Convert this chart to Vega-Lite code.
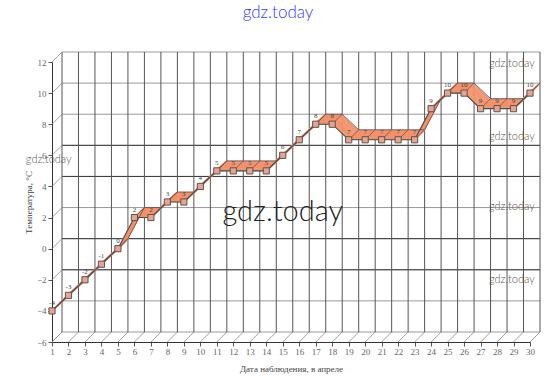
{
  "$schema": "https://vega.github.io/schema/vega-lite/v6.json",
  "width": 478,
  "height": 280,
  "autosize": {"type": "none"},
  "padding": {"left": 52, "top": 62, "right": 26, "bottom": 43},
  "background": "white",
  "config": {"view": {"stroke": null}, "axis": {"grid": false, "labelOverlap": false}},
  "title": {"text": "gdz.today", "color": "#3b3bea", "fontSize": 17, "font": "Lato", "fontWeight": 300, "offset": 30, "dx": -13},
  "datasets": {
    "temp": [
      {"day": 1, "t": -4}, {"day": 2, "t": -3}, {"day": 3, "t": -2}, {"day": 4, "t": -1}, {"day": 5, "t": 0},
      {"day": 6, "t": 2}, {"day": 7, "t": 2}, {"day": 8, "t": 3}, {"day": 9, "t": 3}, {"day": 10, "t": 4},
      {"day": 11, "t": 5}, {"day": 12, "t": 5}, {"day": 13, "t": 5}, {"day": 14, "t": 5}, {"day": 15, "t": 6},
      {"day": 16, "t": 7}, {"day": 17, "t": 8}, {"day": 18, "t": 8}, {"day": 19, "t": 7}, {"day": 20, "t": 7},
      {"day": 21, "t": 7}, {"day": 22, "t": 7}, {"day": 23, "t": 7}, {"day": 24, "t": 9}, {"day": 25, "t": 10},
      {"day": 26, "t": 10}, {"day": 27, "t": 9}, {"day": 28, "t": 9}, {"day": 29, "t": 9}, {"day": 30, "t": 10}
    ],
    "days": [
      {"day": 1}, {"day": 2}, {"day": 3}, {"day": 4}, {"day": 5}, {"day": 6}, {"day": 7}, {"day": 8}, {"day": 9}, {"day": 10},
      {"day": 11}, {"day": 12}, {"day": 13}, {"day": 14}, {"day": 15}, {"day": 16}, {"day": 17}, {"day": 18}, {"day": 19}, {"day": 20},
      {"day": 21}, {"day": 22}, {"day": 23}, {"day": 24}, {"day": 25}, {"day": 26}, {"day": 27}, {"day": 28}, {"day": 29}, {"day": 30}
    ],
    "levels": [{"t": -6}, {"t": -4}, {"t": -2}, {"t": 0}, {"t": 2}, {"t": 4}, {"t": 6}, {"t": 8}, {"t": 10}, {"t": 12}],
    "dark": [{"t": 6}, {"t": 4}, {"t": 0}, {"t": -2}],
    "wm": [{"day": 28.9, "t": 11.9}, {"day": 28.9, "t": 7.2}, {"day": 28.9, "t": 2.7}, {"day": 28.9, "t": -2.0}, {"day": 0.8, "t": 5.7}]
  },
  "layer": [
    {
      "data": {"name": "levels"},
      "mark": {"type": "rule", "color": "#9a9a9a", "strokeWidth": 1, "xOffset": 10, "x2Offset": 10, "yOffset": -10, "y2Offset": -10},
      "encoding": {
        "x": {"datum": 1, "type": "quantitative",
          "scale": {"domain": [1, 30], "nice": false, "zero": false},
          "axis": {"title": "Дата наблюдения, в апреле", "values": [1,2,3,4,5,6,7,8,9,10,11,12,13,14,15,16,17,18,19,20,21,22,23,24,25,26,27,28,29,30], "tickCount": 30,
            "labelFont": "Liberation Serif", "labelFontSize": 9, "labelColor": "#666", "labelPadding": 1, "labelFlush": false, "labelOverlap": false,
            "tickColor": "#555", "tickSize": 4, "domainColor": "#333",
            "titleFont": "Liberation Serif", "titleFontSize": 9, "titleColor": "#444", "titleFontWeight": "normal", "titlePadding": 8}},
        "x2": {"datum": 30},
        "y": {"field": "t", "type": "quantitative",
          "scale": {"domain": [-6, 12], "nice": false, "zero": false},
          "axis": {"title": "Температура, °C", "values": [-6,-4,-2,0,2,4,6,8,10,12], "tickCount": 10,
            "labelFont": "Liberation Serif", "labelFontSize": 9, "labelColor": "#666", "labelPadding": 2, "labelFlush": false, "labelOverlap": false,
            "tickColor": "#555", "tickSize": 4, "domainColor": "#333",
            "titleFont": "Liberation Serif", "titleFontSize": 9, "titleColor": "#444", "titleFontWeight": "normal", "titlePadding": 3}}
      }
    },
    {
      "data": {"name": "dark"},
      "mark": {"type": "rule", "color": "#3a3a3a", "strokeWidth": 1, "xOffset": 10, "x2Offset": 10, "yOffset": -10, "y2Offset": -10},
      "encoding": {"x": {"datum": 1, "type": "quantitative"}, "x2": {"datum": 30}, "y": {"field": "t", "type": "quantitative"}}
    },
    {
      "data": {"name": "days"},
      "mark": {"type": "rule", "color": "#555", "strokeWidth": 1, "xOffset": 10, "x2Offset": 10, "yOffset": -10, "y2Offset": -10},
      "encoding": {"x": {"field": "day", "type": "quantitative"}, "y": {"datum": -6, "type": "quantitative"}, "y2": {"datum": 12}}
    },
    {
      "data": {"name": "days"},
      "mark": {"type": "rule", "color": "#888", "strokeWidth": 0.8, "x2Offset": 10, "y2Offset": -10},
      "encoding": {"x": {"field": "day", "type": "quantitative"}, "x2": {"field": "day"}, "y": {"datum": -6, "type": "quantitative"}, "y2": {"datum": -6}}
    },
    {
      "data": {"name": "levels"},
      "mark": {"type": "rule", "color": "#888", "strokeWidth": 0.8, "x2Offset": 10, "y2Offset": -10},
      "encoding": {"x": {"datum": 1, "type": "quantitative"}, "x2": {"datum": 1}, "y": {"field": "t", "type": "quantitative"}, "y2": {"field": "t"}}
    },
    {"data": {"name": "temp"}, "mark": {"type": "line", "color": "#f3916a", "strokeWidth": 1.8, "xOffset": 0.6, "yOffset": -0.6},
      "encoding": {"x": {"field": "day", "type": "quantitative"}, "y": {"field": "t", "type": "quantitative"}}},
    {"data": {"name": "temp"}, "mark": {"type": "line", "color": "#f3916a", "strokeWidth": 1.8, "xOffset": 1.8, "yOffset": -1.8},
      "encoding": {"x": {"field": "day", "type": "quantitative"}, "y": {"field": "t", "type": "quantitative"}}},
    {"data": {"name": "temp"}, "mark": {"type": "line", "color": "#f3916a", "strokeWidth": 1.8, "xOffset": 3, "yOffset": -3},
      "encoding": {"x": {"field": "day", "type": "quantitative"}, "y": {"field": "t", "type": "quantitative"}}},
    {"data": {"name": "temp"}, "mark": {"type": "line", "color": "#f3916a", "strokeWidth": 1.8, "xOffset": 4.2, "yOffset": -4.2},
      "encoding": {"x": {"field": "day", "type": "quantitative"}, "y": {"field": "t", "type": "quantitative"}}},
    {"data": {"name": "temp"}, "mark": {"type": "line", "color": "#f3916a", "strokeWidth": 1.8, "xOffset": 5.4, "yOffset": -5.4},
      "encoding": {"x": {"field": "day", "type": "quantitative"}, "y": {"field": "t", "type": "quantitative"}}},
    {"data": {"name": "temp"}, "mark": {"type": "line", "color": "#f3916a", "strokeWidth": 1.8, "xOffset": 6.6, "yOffset": -6.6},
      "encoding": {"x": {"field": "day", "type": "quantitative"}, "y": {"field": "t", "type": "quantitative"}}},
    {"data": {"name": "temp"}, "mark": {"type": "line", "color": "#f3916a", "strokeWidth": 1.8, "xOffset": 7.8, "yOffset": -7.8},
      "encoding": {"x": {"field": "day", "type": "quantitative"}, "y": {"field": "t", "type": "quantitative"}}},
    {"data": {"name": "temp"}, "mark": {"type": "line", "color": "#f3916a", "strokeWidth": 1.8, "xOffset": 9, "yOffset": -9},
      "encoding": {"x": {"field": "day", "type": "quantitative"}, "y": {"field": "t", "type": "quantitative"}}},
    {"data": {"name": "temp"}, "mark": {"type": "line", "color": "#6a5555", "strokeWidth": 0.9, "xOffset": 10, "yOffset": -10},
      "encoding": {"x": {"field": "day", "type": "quantitative"}, "y": {"field": "t", "type": "quantitative"}}},
    {
      "data": {"name": "temp"},
      "mark": {"type": "rule", "color": "#6a5555", "strokeWidth": 0.8, "x2Offset": 10, "y2Offset": -10},
      "encoding": {"x": {"field": "day", "type": "quantitative"}, "x2": {"field": "day"}, "y": {"field": "t", "type": "quantitative"}, "y2": {"field": "t"}}
    },
    {"data": {"name": "temp"}, "mark": {"type": "line", "color": "#3f4f58", "strokeWidth": 1.1},
      "encoding": {"x": {"field": "day", "type": "quantitative"}, "y": {"field": "t", "type": "quantitative"}}},
    {"data": {"name": "temp"}, "mark": {"type": "point", "shape": "square", "filled": true, "size": 38, "fill": "#eaa38c", "stroke": "#555", "strokeWidth": 1, "opacity": 1},
      "encoding": {"x": {"field": "day", "type": "quantitative"}, "y": {"field": "t", "type": "quantitative"}}},
    {"data": {"name": "temp"}, "mark": {"type": "text", "dy": -8, "fontSize": 7, "font": "Liberation Serif", "color": "#444"},
      "encoding": {"x": {"field": "day", "type": "quantitative"}, "y": {"field": "t", "type": "quantitative"}, "text": {"field": "t"}}},
    {"data": {"name": "wm"}, "mark": {"type": "text", "text": "gdz.today", "fontSize": 11, "font": "Lato", "fontWeight": 300, "color": "#555"},
      "encoding": {"x": {"field": "day", "type": "quantitative"}, "y": {"field": "t", "type": "quantitative"}}},
    {"data": {"values": [{"day": 15, "t": 2.35}]}, "mark": {"type": "text", "text": "gdz.today", "fontSize": 29, "font": "Lato", "fontWeight": 300, "color": "#222"},
      "encoding": {"x": {"field": "day", "type": "quantitative"}, "y": {"field": "t", "type": "quantitative"}}}
  ]
}
